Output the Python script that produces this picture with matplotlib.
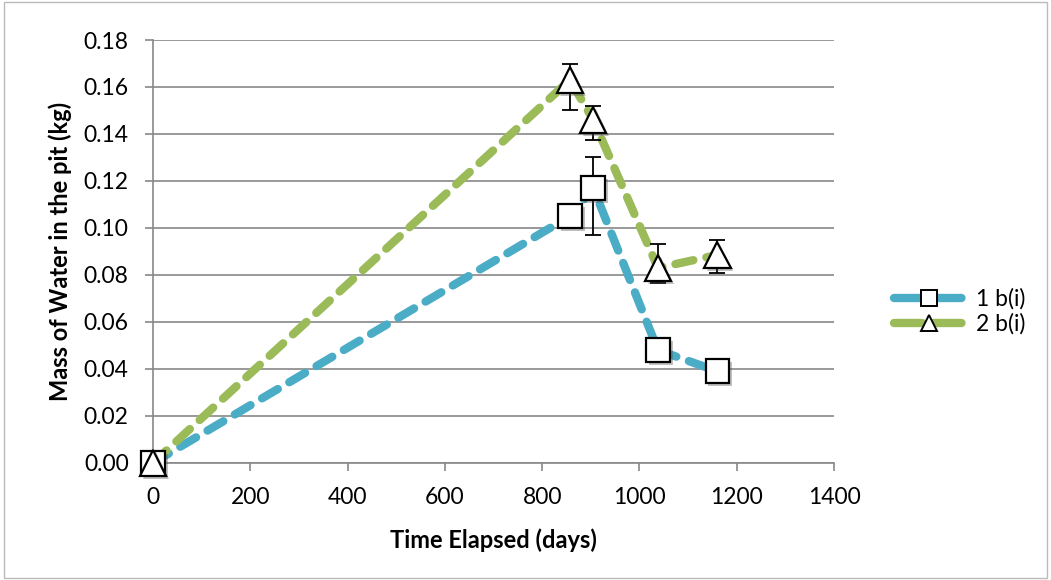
import matplotlib.pyplot as plt
import matplotlib.patheffects as pe

plt.rcParams['font.family'] = ['Lato', 'DejaVu Sans']

# data
days_1 = [0, 857, 905, 1038, 1160]
mass_1 = [0.0, 0.105, 0.117, 0.048, 0.039]
err_lo_1 = [0, 0, 0.020, 0, 0]
err_hi_1 = [0, 0, 0.013, 0, 0]

days_2 = [0, 857, 905, 1038, 1160]
mass_2 = [0.0, 0.163, 0.146, 0.083, 0.0885]
err_lo_2 = [0, 0.013, 0.0085, 0.0065, 0.0075]
err_hi_2 = [0, 0.007, 0.006, 0.010, 0.0065]

labels = ['1 b(i)', '2 b(i)']
colors = ['#4BACC6', '#9BBB59']

fig = plt.figure(figsize=(10.51, 5.8), dpi=100)
ax = fig.add_axes([0.1456, 0.202, 0.648, 0.729])

shadow = [pe.SimplePatchShadow(offset=(2, -2), alpha=0.35), pe.Normal()]

series = [(days_1, mass_1, err_lo_1, err_hi_1, 's', 17),
          (days_2, mass_2, err_lo_2, err_hi_2, '^', 19)]
for (x, y, lo, hi, m, ms), lab, c in zip(series, labels, colors):
    ax.plot(x, y, color=c, lw=6, dashes=(2.2, 1.6), dash_capstyle='round',
            solid_capstyle='round', zorder=2, clip_on=False)
    ax.errorbar(x, y, yerr=[lo, hi], fmt='none', ecolor='black', elinewidth=1.3,
                capsize=6, capthick=1.3, zorder=3)
    pts, = ax.plot(x, y, ls='none', marker=m, ms=ms, mfc='white', mec='black',
                   mew=1.6, zorder=4, clip_on=False)
    pts.set_path_effects(shadow)
    ax.plot([], [], color=c, lw=6, dashes=(3.4, 1.3), dash_capstyle='round',
            marker=m, ms=12, mfc='white', mec='black', mew=1.4, label=lab)

ax.set_xlim(0, 1400)
ax.set_ylim(0, 0.18)
ax.set_xticks(range(0, 1401, 200))
ax.set_yticks([i * 0.02 for i in range(10)])
ax.set_yticklabels(['%.2f' % (i * 0.02) for i in range(10)])
ax.grid(axis='y', color='#888888', lw=1.2)
ax.set_axisbelow(True)
for s in ['top', 'right']:
    ax.spines[s].set_visible(False)
for s in ['left', 'bottom']:
    ax.spines[s].set_color('#888888')
    ax.spines[s].set_linewidth(1.2)
ax.tick_params(colors='#888888', labelcolor='black', labelsize=16.5, length=5.5, width=1.2)
ax.tick_params(axis='y', pad=12)
ax.tick_params(axis='x', pad=12)
ax.set_xlabel('Time Elapsed (days)', fontsize=17, fontweight='bold')
ax.set_ylabel('Mass of Water in the pit (kg)', fontsize=17, fontweight='bold', va='center')
ax.xaxis.set_label_coords(0.5, -0.154)
ax.yaxis.set_label_coords(-0.137, 0.5)

ax.legend(loc='center left', bbox_to_anchor=(1.057, 0.358), frameon=False,
          fontsize=16.5, handlelength=3.1, labelspacing=0.15, handletextpad=0.5)

fig.patches.append(plt.Rectangle((0.004, 0.004), 0.992, 0.992, transform=fig.transFigure,
                                 fill=False, ec='#BBBBBB', lw=1))

fig.savefig('out.png', dpi=100)
